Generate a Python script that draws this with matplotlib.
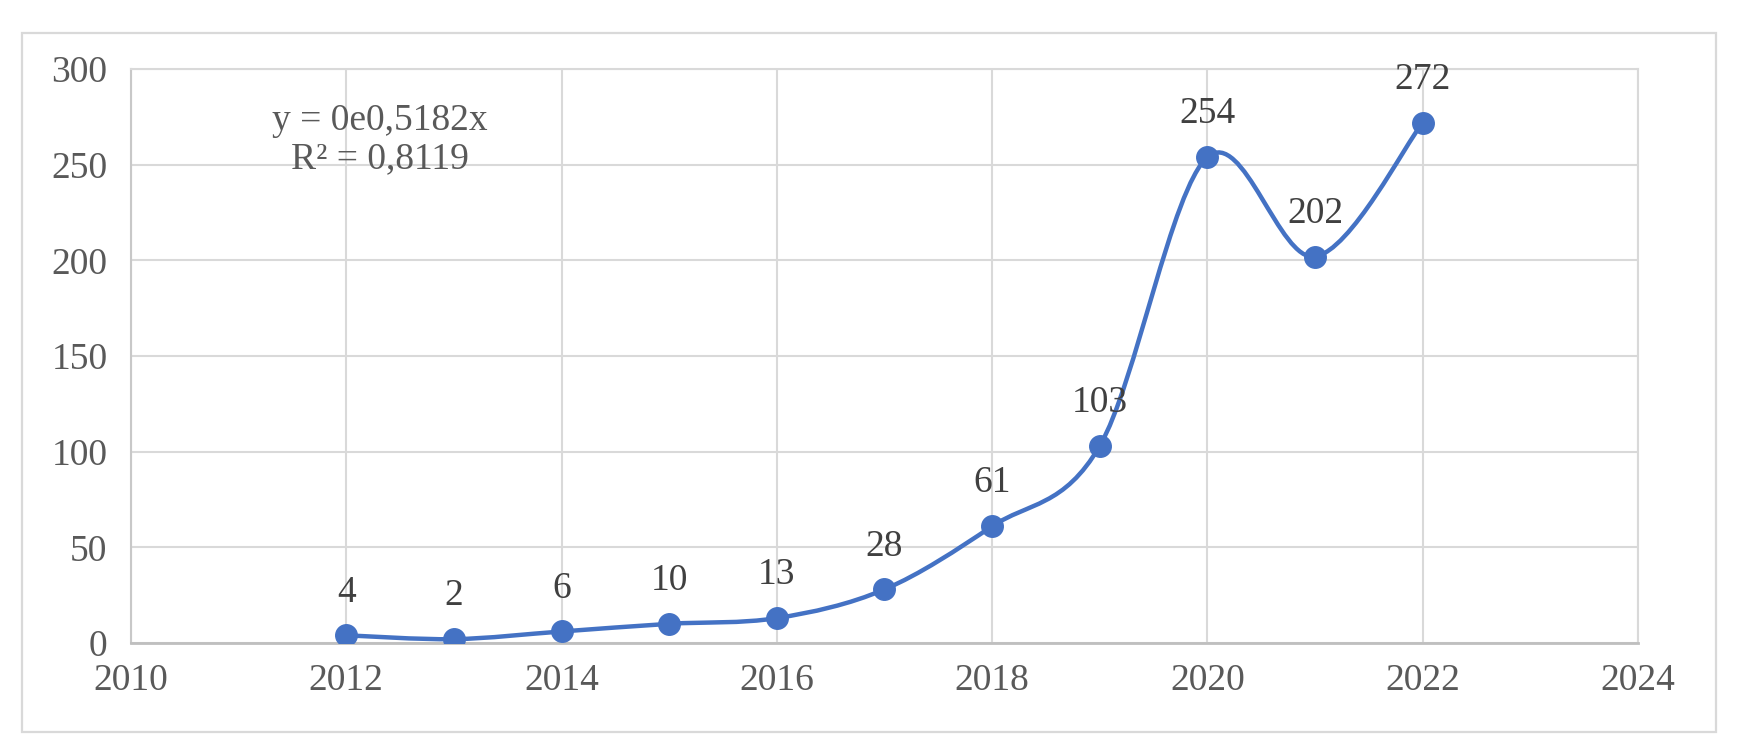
import numpy as np
import matplotlib.pyplot as plt
from matplotlib.path import Path
from matplotlib.patches import PathPatch, Rectangle

years = [2012, 2013, 2014, 2015, 2016, 2017, 2018, 2019, 2020, 2021, 2022]
counts = [4, 2, 6, 10, 13, 28, 61, 103, 254, 202, 272]
x_ticks = [2010, 2012, 2014, 2016, 2018, 2020, 2022, 2024]
y_ticks = [0, 50, 100, 150, 200, 250, 300]
trend_text = "y = 0e0,5182x\nR² = 0,8119"

blue = '#4472C4'
plt.rcParams['font.family'] = ['Liberation Serif', 'DejaVu Serif']
fs = 27

fig = plt.figure(figsize=(17.38, 7.52), dpi=100)
ax = fig.add_axes([0.0754, 0.145, 0.867, 0.763])

# smoothed line like Excel (bezier through the points)
pts = np.column_stack([years, counts]).astype(float)
n = len(pts)
verts = [pts[0]]
codes = [Path.MOVETO]
for i in range(n - 1):
    p0 = pts[i - 1] if i > 0 else pts[i]
    p1 = pts[i]
    p2 = pts[i + 1]
    p3 = pts[i + 2] if i + 2 < n else pts[i + 1]
    c1 = p1 + (p2 - p0) / 6.0
    c2 = p2 - (p3 - p1) / 6.0
    verts += [c1, c2, p2]
    codes += [Path.CURVE4] * 3
ax.add_patch(PathPatch(Path(verts, codes), facecolor='none', edgecolor=blue,
                       lw=3.2, zorder=3, capstyle='round'))
ax.plot(years, counts, linestyle='none', marker='o', color=blue,
        markersize=15.5, zorder=4)

for x, y in zip(years, counts):
    ax.annotate(str(y), (x, y), xytext=(0, 31), textcoords='offset points',
                ha='center', va='center', fontsize=fs, color='#404040')

ax.text(2012.31, 263, trend_text, ha='center', va='center', fontsize=fs,
        color='#595959', linespacing=1.12)

ax.set_xlim(2010, 2024)
ax.set_ylim(0, 300)
ax.set_xticks(x_ticks)
ax.set_yticks(y_ticks)
ax.grid(True, color='#d9d9d9', lw=1.5)
ax.set_axisbelow(True)
ax.tick_params(length=0, labelsize=fs, labelcolor='#595959')
ax.tick_params(axis='y', pad=17)
ax.tick_params(axis='x', pad=15)
for s in ['top', 'right']:
    ax.spines[s].set_color('#d9d9d9')
    ax.spines[s].set_linewidth(1.5)
ax.spines['bottom'].set_color('#bfbfbf')
ax.spines['bottom'].set_linewidth(2)
ax.spines['left'].set_color('#c8c8c8')
ax.spines['left'].set_linewidth(1.5)

fig.patches.append(Rectangle((22 / 1738, 1 - 732 / 752), 1694 / 1738, 699 / 752,
                             transform=fig.transFigure, fill=False,
                             edgecolor='#d9d9d9', lw=1.6))

fig.savefig('out.png', dpi=100)
